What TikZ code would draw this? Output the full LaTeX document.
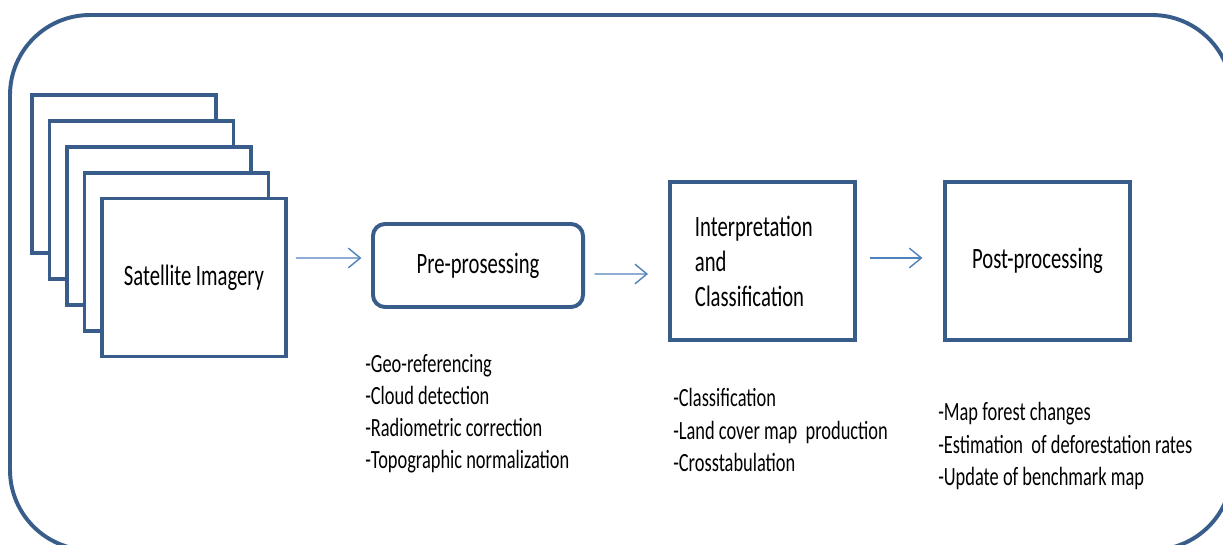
\documentclass[tikz,border=0pt]{standalone}
\usepackage{xcolor}
\usepackage{fontspec}
\setmainfont{Carlito}[FakeStretch=0.7]
\usepackage{tikz}
\usetikzlibrary{arrows.meta, positioning}
\definecolor{frameblue}{RGB}{56, 93, 138}
\definecolor{arrowblue}{RGB}{79, 129, 189}

\begin{document}
\begin{tikzpicture}[
    x=0.025cm, y=-0.025cm,
    frame/.style={rectangle, draw=frameblue, line width=2.8pt, fill=white, minimum width=4.6cm, minimum height=3.95cm, font=\fontsize{21pt}{24.9pt}\selectfont},
    stage/.style={rectangle, draw=frameblue, line width=2.8pt, minimum width=4.625cm, minimum height=3.95cm, font=\fontsize{21pt}{24.9pt}\selectfont},
    steps/.style={anchor=west, align=left, inner sep=0pt, font=\fontsize{18.7pt}{22.8pt}\selectfont},
    arrow/.style={-{Straight Barb[length=8.5pt, width=14pt]}, draw=arrowblue, line width=1pt}
]
    \useasboundingbox (0,0) rectangle (1223,545);
    % outer frame, cut at the page edge
    \begin{scope}
        \clip (0,0) rectangle (1223,545);
        \draw[frameblue, line width=2.8pt, rounded corners=2cm] (10,15) rectangle (1232,550);
    \end{scope}

    % stack of images
    \foreach \i in {0,...,3}
        \node[frame] (img\i) at ({124+17.5*\i},{174+25.9*\i}) {};
    \node[frame] (imagery) at (194,277.5) {Satellite Imagery};

    \node[stage, rounded corners=0.3cm, minimum width=5.25cm, minimum height=2.075cm] (preproc) at (478,265.5) {Pre-prosessing};
    \node[stage, align=left, text width=3.375cm] (interp) at (762.5,261) {Interpretation\\and\\Classification};
    \node[stage] (postproc) at (1037.5,261) {Post-processing};

    \node[steps] (prelist) at (365,413.5) {-Geo-referencing\\-Cloud detection\\-Radiometric correction\\-Topographic normalization};
    \node[steps] (interplist) at (673,430) {-Classification\\-Land cover map\ \ production\\-Crosstabulation};
    \node[steps] (postlist) at (938,446) {-Map forest changes\\-Estimation\ \ of deforestation rates\\-Update of benchmark map};

    \draw[arrow, shorten <=0.2cm, shorten >=0.24cm] ([yshift=0.4875cm]imagery.east) -- ([yshift=0.1875cm]preproc.west);
    \draw[arrow, shorten <=0.24cm, shorten >=0.5cm] ([yshift=-0.2125cm]preproc.east) -- ([yshift=-0.325cm]interp.west);
    \draw[arrow, shorten <=0.315cm, shorten >=0.515cm] ([yshift=0.075cm]interp.east) -- ([yshift=0.075cm]postproc.west);
\end{tikzpicture}
\end{document}
